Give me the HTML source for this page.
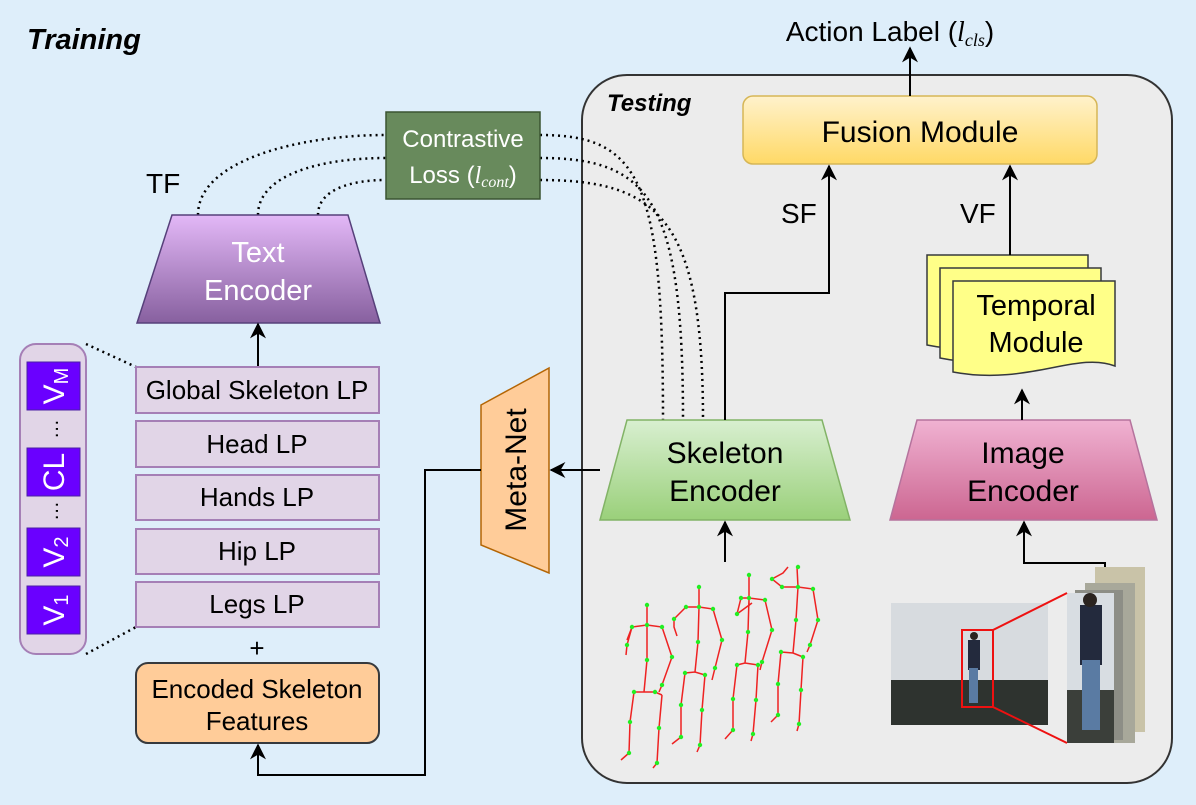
<!DOCTYPE html>
<html><head><meta charset="utf-8"><style>
html,body{margin:0;padding:0;background:#deeefa;}
svg{display:block;font-family:"Liberation Sans",sans-serif;}
</style></head><body>
<svg width="1196" height="805" viewBox="0 0 1196 805" xmlns="http://www.w3.org/2000/svg">
<defs>
<linearGradient id="gy" x1="0" y1="0" x2="0" y2="1"><stop offset="0" stop-color="#fff2cc"/><stop offset="1" stop-color="#ffd966"/></linearGradient>
<linearGradient id="gp" x1="0" y1="0" x2="0" y2="1"><stop offset="0" stop-color="#e3b8f7"/><stop offset="1" stop-color="#87609f"/></linearGradient>
<linearGradient id="gg" x1="0" y1="0" x2="0" y2="1"><stop offset="0" stop-color="#d8efd0"/><stop offset="1" stop-color="#9ad07a"/></linearGradient>
<linearGradient id="gk" x1="0" y1="0" x2="0" y2="1"><stop offset="0" stop-color="#f0b2d2"/><stop offset="1" stop-color="#cc6691"/></linearGradient>
<marker id="ar" viewBox="0 0 10 10" refX="9" refY="5" markerWidth="8" markerHeight="8" orient="auto-start-reverse"><path d="M0,0 L10,5 L0,10 L3,5 z" fill="#000"/></marker>
</defs>
<rect width="1196" height="805" fill="#deeefa"/>
<text x="27" y="49" font-size="29" font-weight="bold" font-style="italic">Training</text>
<rect x="582" y="75" width="590" height="708" rx="45" fill="#ececec" stroke="#333" stroke-width="2"/>
<text x="607" y="111" font-size="24" font-weight="bold" font-style="italic">Testing</text>

<rect x="743" y="96" width="354" height="68" rx="10" fill="url(#gy)" stroke="#d6b656" stroke-width="1.5"/>
<text x="920" y="142" font-size="30" text-anchor="middle">Fusion Module</text>
<line x1="910" y1="96" x2="910" y2="48" stroke="#000" stroke-width="2" marker-end="url(#ar)"/>
<text x="890" y="41" font-size="28" text-anchor="middle">Action Label (<tspan font-family="Liberation Serif" font-style="italic">l</tspan><tspan font-family="Liberation Serif" font-style="italic" font-size="18" dy="5">cls</tspan><tspan dy="-5">)</tspan></text>

<g fill="none" stroke="#000" stroke-width="2.5" stroke-dasharray="2,4">
<path d="M198,215 C198,160 300,135 386,135"/>
<path d="M258,215 C258,175 320,158 386,158"/>
<path d="M318,215 C318,190 350,180 386,180"/>
<path d="M540,135 C640,135 663,180 663,420"/>
<path d="M540,158 C650,158 683,200 683,420"/>
<path d="M540,180 C660,180 703,220 703,420"/>
<line x1="86" y1="344" x2="136" y2="367"/>
<line x1="86" y1="654" x2="136" y2="627"/>
</g>

<rect x="386" y="112" width="154" height="87" fill="#688a5c" stroke="#3a5431" stroke-width="1.5"/>
<text x="463" y="147" font-size="24" fill="#fff" text-anchor="middle">Contrastive</text>
<text x="463" y="183" font-size="24" fill="#fff" text-anchor="middle">Loss (<tspan font-family="Liberation Serif" font-style="italic">l</tspan><tspan font-family="Liberation Serif" font-style="italic" font-size="16" dy="4">cont</tspan><tspan dy="-4">)</tspan></text>

<text x="146" y="193" font-size="28">TF</text>
<path d="M172,215 L348,215 L380,323 L137,323 Z" fill="url(#gp)" stroke="#56407a" stroke-width="1.5"/>
<text x="258" y="262" font-size="29" fill="#fff" text-anchor="middle">Text</text>
<text x="258" y="300" font-size="29" fill="#fff" text-anchor="middle">Encoder</text>
<line x1="258" y1="367" x2="258" y2="324" stroke="#000" stroke-width="2" marker-end="url(#ar)"/>

<g fill="#e1d5e7" stroke="#a57fb6" stroke-width="2">
<rect x="136" y="367" width="243" height="46"/>
<rect x="136" y="421" width="243" height="46"/>
<rect x="136" y="475" width="243" height="45"/>
<rect x="136" y="529" width="243" height="45"/>
<rect x="136" y="582" width="243" height="45"/>
</g>
<g font-size="26" text-anchor="middle">
<text x="257" y="399">Global Skeleton LP</text>
<text x="257" y="453">Head LP</text>
<text x="257" y="506">Hands LP</text>
<text x="257" y="560">Hip LP</text>
<text x="257" y="613">Legs LP</text>
</g>
<text x="257" y="657" font-size="26" text-anchor="middle">+</text>
<rect x="136" y="663" width="243" height="80" rx="12" fill="#ffcc99" stroke="#36393d" stroke-width="2"/>
<text x="257" y="698" font-size="26" text-anchor="middle">Encoded Skeleton</text>
<text x="257" y="730" font-size="26" text-anchor="middle">Features</text>

<rect x="20" y="344" width="66" height="310" rx="16" fill="#e1d5e7" stroke="#a57fb6" stroke-width="2"/>
<g fill="#6a00ff" stroke="#4b1fa6" stroke-width="1">
<rect x="27" y="362" width="53" height="48"/>
<rect x="27" y="448" width="53" height="48"/>
<rect x="27" y="528" width="53" height="48"/>
<rect x="27" y="586" width="53" height="48"/>
</g>
<g fill="#fff" font-size="30">
<text transform="translate(64,386) rotate(-90)" text-anchor="middle">V<tspan font-size="20" dy="4">M</tspan></text>
<text transform="translate(64,472) rotate(-90)" text-anchor="middle">CL</text>
<text transform="translate(64,552) rotate(-90)" text-anchor="middle">V<tspan font-size="20" dy="4">2</tspan></text>
<text transform="translate(64,610) rotate(-90)" text-anchor="middle">V<tspan font-size="20" dy="4">1</tspan></text>
</g>
<text transform="translate(58,429) rotate(-90)" font-size="20" text-anchor="middle">…</text>
<text transform="translate(58,511) rotate(-90)" font-size="20" text-anchor="middle">…</text>

<path d="M481,405 L549,368 L549,573 L481,545 Z" fill="#ffcc99" stroke="#b46504" stroke-width="1.5"/>
<text transform="translate(526,470) rotate(-90)" font-size="30" text-anchor="middle">Meta-Net</text>
<line x1="600" y1="470" x2="551" y2="470" stroke="#000" stroke-width="2" marker-end="url(#ar)"/>
<polyline points="481,470 425,470 425,775 258,775 258,745" fill="none" stroke="#000" stroke-width="2" marker-end="url(#ar)"/>

<path d="M627,420 L822,420 L850,520 L600,520 Z" fill="url(#gg)" stroke="#82b366" stroke-width="1.5"/>
<text x="725" y="463" font-size="30" text-anchor="middle">Skeleton</text>
<text x="725" y="501" font-size="30" text-anchor="middle">Encoder</text>
<polyline points="725,420 725,293 829,293 829,166" fill="none" stroke="#000" stroke-width="2" marker-end="url(#ar)"/>
<text x="781" y="223" font-size="28">SF</text>
<line x1="725" y1="562" x2="725" y2="522" stroke="#000" stroke-width="2" marker-end="url(#ar)"/>

<path d="M917,420 L1130,420 L1157,520 L890,520 Z" fill="url(#gk)" stroke="#b5739d" stroke-width="1.5"/>
<text x="1023" y="463" font-size="30" text-anchor="middle">Image</text>
<text x="1023" y="501" font-size="30" text-anchor="middle">Encoder</text>
<line x1="1022" y1="420" x2="1022" y2="390" stroke="#000" stroke-width="2" marker-end="url(#ar)"/>
<polyline points="1105,596 1105,563 1024,563 1024,522" fill="none" stroke="#000" stroke-width="2" marker-end="url(#ar)"/>

<g fill="#ffff88" stroke="#36393d" stroke-width="1.5">
<path d="M927,255 L1088,255 L1088,340 C1050,325 1000,360 927,345 Z"/>
<path d="M940,268 L1101,268 L1101,353 C1063,338 1013,373 940,358 Z"/>
<path d="M953,281 L1115,281 L1115,366 C1077,351 1027,386 953,372 Z"/>
</g>
<text x="1036" y="315" font-size="29" text-anchor="middle">Temporal</text>
<text x="1036" y="352" font-size="29" text-anchor="middle">Module</text>
<line x1="1010" y1="255" x2="1010" y2="166" stroke="#000" stroke-width="2" marker-end="url(#ar)"/>
<text x="960" y="223" font-size="28">VF</text>

<g fill="none" stroke="#ee2222" stroke-width="1.5">
<path d="M647,605 L647,625 M627,640 L632,627 L647,625 L662,627 L672,657 L662,685 L659,692 M647,625 L647,660 L644,692 M632,627 L627,645 L626,655 M634,692 L655,692 L662,695 M634,692 L630,722 L629,753 L621,760 M662,695 L659,728 L657,763 L653,768"/>
<path d="M699,587 L699,607 M674,619 L686,607 L699,607 L713,609 L722,640 L715,668 L712,680 M674,619 L674,627 L677,636 M699,607 L698,642 L695,672 M685,673 L695,672 L705,675 M685,673 L681,705 L681,737 L672,744 M705,675 L702,710 L700,745 L697,752"/>
<path d="M749,575 L749,606 M737,614 L741,598 L749,598 L765,600 L772,630 L762,662 L760,670 M737,614 L752,603 M749,598 L748,632 L745,663 M737,665 L745,663 L758,665 M737,665 L733,699 L733,730 L725,739 M758,665 L756,700 L753,734 L751,741"/>
<path d="M797,567 L798,587 M788,567 L783,573 L772,579 L782,587 L798,587 L813,589 L818,620 L810,645 L807,652 M798,587 L796,620 L793,653 M781,652 L793,653 L803,657 M781,652 L778,684 L778,715 L771,722 M803,657 L801,690 L799,724 L797,731"/>
</g>
<g fill="#22ee22">
<circle cx="647" cy="605" r="2.2"/><circle cx="647" cy="625" r="2.2"/><circle cx="632" cy="627" r="2.2"/><circle cx="662" cy="627" r="2.2"/><circle cx="672" cy="657" r="2.2"/><circle cx="662" cy="685" r="2.2"/><circle cx="647" cy="660" r="2.2"/><circle cx="627" cy="645" r="2.2"/><circle cx="634" cy="692" r="2.2"/><circle cx="655" cy="692" r="2.2"/><circle cx="630" cy="722" r="2.2"/><circle cx="629" cy="753" r="2.2"/><circle cx="659" cy="728" r="2.2"/><circle cx="657" cy="763" r="2.2"/>
<circle cx="699" cy="587" r="2.2"/><circle cx="699" cy="607" r="2.2"/><circle cx="686" cy="607" r="2.2"/><circle cx="713" cy="609" r="2.2"/><circle cx="722" cy="640" r="2.2"/><circle cx="715" cy="668" r="2.2"/><circle cx="674" cy="619" r="2.2"/><circle cx="698" cy="642" r="2.2"/><circle cx="685" cy="673" r="2.2"/><circle cx="705" cy="675" r="2.2"/><circle cx="681" cy="705" r="2.2"/><circle cx="681" cy="737" r="2.2"/><circle cx="702" cy="710" r="2.2"/><circle cx="700" cy="745" r="2.2"/>
<circle cx="749" cy="575" r="2.2"/><circle cx="749" cy="598" r="2.2"/><circle cx="741" cy="598" r="2.2"/><circle cx="765" cy="600" r="2.2"/><circle cx="772" cy="630" r="2.2"/><circle cx="762" cy="662" r="2.2"/><circle cx="737" cy="614" r="2.2"/><circle cx="748" cy="632" r="2.2"/><circle cx="737" cy="665" r="2.2"/><circle cx="758" cy="665" r="2.2"/><circle cx="733" cy="699" r="2.2"/><circle cx="733" cy="730" r="2.2"/><circle cx="756" cy="700" r="2.2"/><circle cx="753" cy="734" r="2.2"/>
<circle cx="798" cy="567" r="2.2"/><circle cx="798" cy="587" r="2.2"/><circle cx="782" cy="587" r="2.2"/><circle cx="813" cy="589" r="2.2"/><circle cx="818" cy="620" r="2.2"/><circle cx="810" cy="645" r="2.2"/><circle cx="772" cy="579" r="2.2"/><circle cx="796" cy="620" r="2.2"/><circle cx="781" cy="652" r="2.2"/><circle cx="803" cy="657" r="2.2"/><circle cx="778" cy="684" r="2.2"/><circle cx="778" cy="715" r="2.2"/><circle cx="801" cy="690" r="2.2"/><circle cx="799" cy="724" r="2.2"/>
</g>

<rect x="1095" y="567" width="50" height="165" fill="#c9c3a8"/>
<rect x="1085" y="583" width="50" height="160" fill="#a8a89a"/>
<rect x="1075" y="590" width="48" height="150" fill="#8d8e86"/>
<rect x="1067" y="593" width="47" height="150" fill="#d8dde2"/>
<rect x="1067" y="690" width="47" height="53" fill="#3b3f3a"/>
<rect x="1080" y="605" width="22" height="60" fill="#232a3d"/>
<rect x="1082" y="660" width="18" height="70" fill="#5a7ba3"/>
<circle cx="1090" cy="600" r="7" fill="#2b2420"/>
<rect x="891" y="603" width="157" height="122" fill="#d7dbdf"/>
<rect x="891" y="680" width="157" height="45" fill="#2e332f"/>
<rect x="968" y="640" width="12" height="30" fill="#232a3d"/>
<rect x="969" y="668" width="9" height="35" fill="#5a7ba3"/>
<circle cx="974" cy="636" r="4" fill="#2b2420"/>
<rect x="962" y="630" width="31" height="77" fill="none" stroke="#ee1111" stroke-width="2"/>
<line x1="993" y1="630" x2="1067" y2="593" stroke="#ee1111" stroke-width="2"/>
<line x1="993" y1="707" x2="1067" y2="743" stroke="#ee1111" stroke-width="2"/>
</svg>
</body></html>
